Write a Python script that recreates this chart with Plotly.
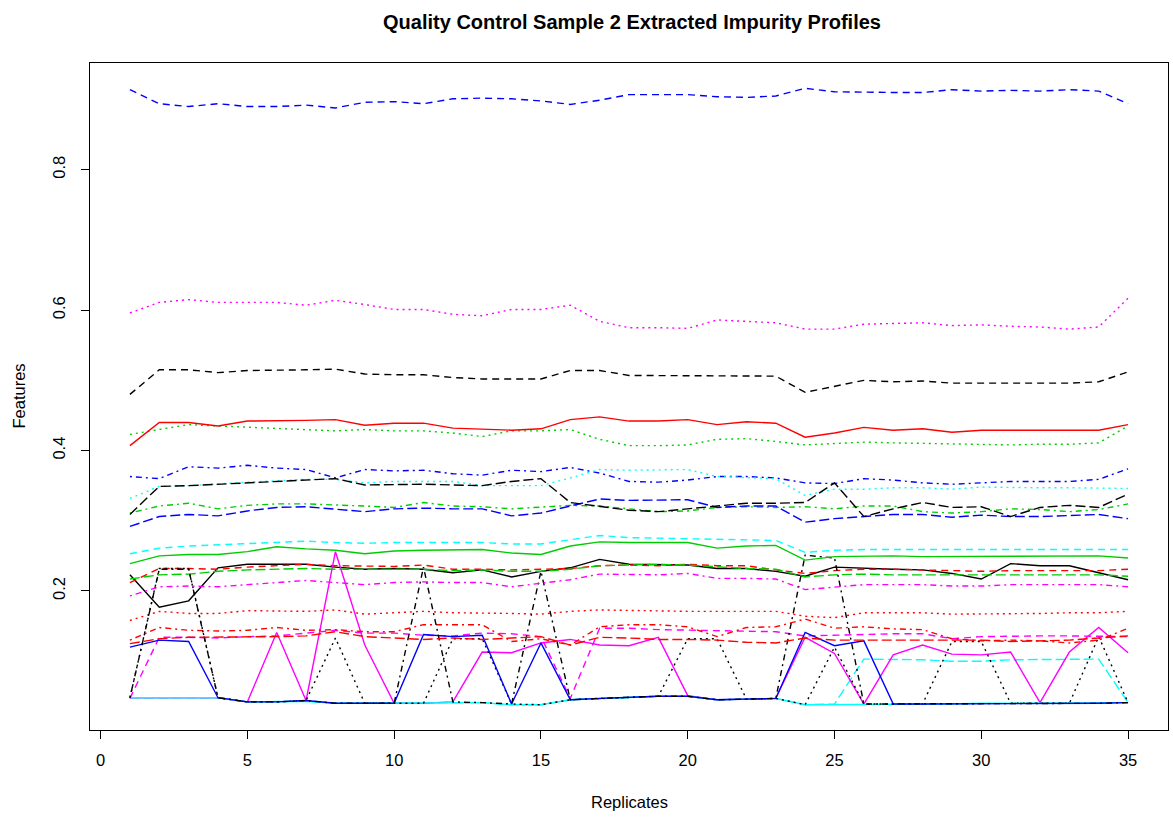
import plotly.graph_objects as go

# Replicate index (x axis)
replicates = list(range(1, 36))

# Feature intensity profiles, one list per feature (35 replicates each)
f01 = [0.223,0.177,0.186,0.233,0.238,0.238,0.238,0.234,0.231,0.232,0.231,0.226,0.230,0.220,0.228,0.233,0.245,0.238,0.237,0.237,0.232,0.232,0.228,0.221,0.234,0.232,0.231,0.230,0.225,0.217,0.239,0.236,0.236,0.226,0.216]
f02 = [0.212,0.232,0.232,0.231,0.234,0.236,0.238,0.236,0.235,0.235,0.237,0.231,0.231,0.230,0.231,0.232,0.236,0.237,0.236,0.238,0.236,0.236,0.230,0.225,0.229,0.231,0.231,0.230,0.228,0.228,0.229,0.229,0.229,0.229,0.231]
f03 = [0.423,0.430,0.437,0.435,0.433,0.432,0.429,0.428,0.430,0.428,0.428,0.425,0.420,0.428,0.428,0.430,0.416,0.407,0.407,0.408,0.416,0.417,0.413,0.408,0.410,0.412,0.411,0.410,0.409,0.409,0.408,0.409,0.409,0.411,0.435]
f04 = [0.363,0.360,0.377,0.375,0.379,0.375,0.373,0.361,0.373,0.371,0.372,0.367,0.365,0.372,0.370,0.376,0.368,0.356,0.355,0.358,0.363,0.363,0.361,0.354,0.353,0.360,0.358,0.354,0.352,0.354,0.356,0.356,0.356,0.359,0.374]
f05 = [0.048,0.048,0.048,0.048,0.042,0.042,0.043,0.040,0.040,0.040,0.040,0.041,0.041,0.038,0.038,0.045,0.047,0.049,0.050,0.050,0.045,0.046,0.047,0.038,0.039,0.103,0.103,0.102,0.100,0.100,0.102,0.102,0.102,0.103,0.041]
f06 = [0.048,0.048,0.048,0.048,0.042,0.141,0.044,0.256,0.123,0.040,0.040,0.042,0.113,0.112,0.126,0.131,0.123,0.122,0.134,0.051,0.045,0.046,0.047,0.134,0.111,0.039,0.109,0.123,0.110,0.109,0.113,0.041,0.113,0.148,0.112]
f07 = [0.480,0.515,0.515,0.511,0.514,0.514,0.515,0.516,0.509,0.508,0.508,0.504,0.502,0.502,0.502,0.514,0.514,0.507,0.507,0.507,0.506,0.507,0.506,0.483,0.492,0.500,0.498,0.499,0.496,0.496,0.495,0.496,0.496,0.498,0.512]
f08 = [0.158,0.171,0.168,0.168,0.172,0.172,0.171,0.173,0.167,0.169,0.171,0.169,0.169,0.168,0.167,0.171,0.173,0.172,0.171,0.171,0.171,0.171,0.171,0.164,0.162,0.169,0.169,0.169,0.167,0.167,0.168,0.168,0.169,0.169,0.171]
f09 = [0.311,0.321,0.325,0.317,0.322,0.324,0.324,0.323,0.321,0.319,0.326,0.321,0.320,0.317,0.320,0.322,0.321,0.317,0.313,0.314,0.319,0.320,0.319,0.320,0.317,0.321,0.321,0.313,0.311,0.313,0.317,0.316,0.313,0.316,0.324]
f10 = [0.292,0.306,0.309,0.307,0.314,0.319,0.320,0.317,0.313,0.317,0.318,0.317,0.317,0.307,0.311,0.321,0.331,0.329,0.329,0.330,0.319,0.321,0.321,0.298,0.303,0.306,0.309,0.309,0.305,0.308,0.306,0.306,0.307,0.309,0.303]
f11 = [0.048,0.048,0.048,0.048,0.042,0.042,0.043,0.040,0.040,0.040,0.040,0.041,0.041,0.038,0.038,0.045,0.047,0.049,0.050,0.050,0.045,0.046,0.047,0.038,0.038,0.038,0.039,0.039,0.039,0.040,0.040,0.040,0.040,0.040,0.041]
f12 = [0.047,0.134,0.134,0.133,0.135,0.136,0.140,0.144,0.140,0.140,0.137,0.136,0.140,0.139,0.135,0.047,0.147,0.147,0.145,0.144,0.144,0.143,0.142,0.136,0.137,0.139,0.139,0.139,0.132,0.135,0.136,0.136,0.136,0.136,0.135]
f13 = [0.048,0.232,0.232,0.048,0.042,0.042,0.044,0.133,0.040,0.040,0.040,0.132,0.132,0.039,0.038,0.045,0.047,0.049,0.050,0.132,0.132,0.046,0.047,0.038,0.120,0.039,0.039,0.039,0.128,0.128,0.040,0.040,0.040,0.135,0.041]
f14 = [0.130,0.148,0.144,0.143,0.144,0.148,0.144,0.145,0.142,0.142,0.152,0.152,0.152,0.128,0.132,0.123,0.149,0.152,0.152,0.149,0.135,0.148,0.149,0.160,0.147,0.149,0.146,0.145,0.132,0.129,0.130,0.129,0.126,0.130,0.147]
f15 = [0.217,0.223,0.224,0.228,0.230,0.231,0.232,0.231,0.231,0.231,0.231,0.229,0.230,0.228,0.228,0.231,0.236,0.237,0.238,0.237,0.234,0.232,0.231,0.220,0.223,0.224,0.223,0.223,0.223,0.223,0.223,0.223,0.223,0.223,0.221]
f16 = [0.120,0.130,0.128,0.048,0.042,0.042,0.044,0.040,0.040,0.040,0.138,0.135,0.137,0.039,0.126,0.045,0.047,0.049,0.050,0.050,0.045,0.046,0.047,0.141,0.122,0.129,0.039,0.039,0.039,0.040,0.040,0.040,0.040,0.040,0.041]
f17 = [0.253,0.261,0.264,0.266,0.268,0.270,0.271,0.269,0.268,0.269,0.269,0.269,0.269,0.267,0.267,0.273,0.279,0.276,0.275,0.275,0.273,0.272,0.272,0.255,0.258,0.259,0.259,0.259,0.258,0.259,0.259,0.259,0.259,0.259,0.259]
f18 = [0.596,0.611,0.615,0.611,0.611,0.611,0.607,0.614,0.608,0.601,0.601,0.594,0.592,0.601,0.601,0.607,0.584,0.575,0.575,0.574,0.586,0.584,0.582,0.573,0.573,0.580,0.581,0.582,0.578,0.579,0.577,0.576,0.573,0.576,0.617]
f19 = [0.048,0.231,0.231,0.048,0.042,0.042,0.044,0.040,0.040,0.040,0.234,0.042,0.041,0.039,0.228,0.045,0.047,0.049,0.050,0.050,0.045,0.046,0.047,0.251,0.247,0.039,0.039,0.039,0.039,0.040,0.040,0.040,0.040,0.040,0.041]
f20 = [0.125,0.132,0.134,0.134,0.135,0.135,0.136,0.142,0.135,0.133,0.131,0.133,0.131,0.133,0.135,0.123,0.134,0.133,0.131,0.131,0.130,0.127,0.126,0.133,0.130,0.130,0.130,0.131,0.131,0.130,0.128,0.129,0.130,0.133,0.136]
f21 = [0.239,0.250,0.252,0.252,0.256,0.263,0.260,0.258,0.253,0.257,0.258,0.258,0.259,0.254,0.252,0.264,0.270,0.269,0.269,0.269,0.261,0.264,0.265,0.244,0.249,0.250,0.250,0.249,0.249,0.250,0.249,0.250,0.250,0.250,0.247]
f22 = [0.914,0.894,0.890,0.894,0.890,0.890,0.892,0.888,0.896,0.897,0.894,0.901,0.902,0.901,0.898,0.893,0.899,0.907,0.907,0.907,0.904,0.903,0.905,0.916,0.911,0.910,0.910,0.910,0.914,0.912,0.913,0.912,0.914,0.912,0.894]
f23 = [0.332,0.349,0.350,0.353,0.355,0.357,0.359,0.359,0.354,0.356,0.356,0.356,0.350,0.350,0.350,0.361,0.373,0.372,0.372,0.373,0.363,0.361,0.360,0.336,0.345,0.345,0.347,0.347,0.345,0.348,0.347,0.347,0.347,0.347,0.346]
f24 = [0.193,0.206,0.207,0.206,0.209,0.212,0.215,0.212,0.209,0.212,0.213,0.212,0.212,0.206,0.211,0.216,0.224,0.223,0.223,0.225,0.218,0.218,0.217,0.202,0.206,0.209,0.209,0.209,0.207,0.207,0.209,0.209,0.209,0.209,0.206]
f25 = [0.309,0.349,0.350,0.352,0.353,0.355,0.357,0.360,0.351,0.352,0.352,0.351,0.350,0.356,0.360,0.326,0.321,0.315,0.313,0.317,0.321,0.325,0.325,0.326,0.354,0.306,0.317,0.326,0.319,0.320,0.306,0.319,0.322,0.319,0.338]
f26 = [0.407,0.440,0.440,0.435,0.442,0.442,0.443,0.444,0.436,0.439,0.439,0.432,0.431,0.429,0.431,0.444,0.448,0.442,0.442,0.444,0.437,0.441,0.439,0.419,0.425,0.433,0.429,0.431,0.426,0.429,0.429,0.429,0.428,0.429,0.437]

features = [f01, f02, f03, f04, f05, f06, f07, f08, f09, f10, f11, f12, f13,
            f14, f15, f16, f17, f18, f19, f20, f21, f22, f23, f24, f25, f26]

# Base graphics palette and line types, recycled across columns
palette = ["#000000", "#FF0000", "#00CD00", "#0000FF", "#00FFFF", "#FF00FF"]
line_types = ["solid", "7px,5px", "2px,4px", "2px,4px,6px,4px", "10px,4px"]

x_ticks = [0, 5, 10, 15, 20, 25, 30, 35]
y_ticks = [0.2, 0.4, 0.6, 0.8]

fig = go.Figure()
for i, values in enumerate(features):
    fig.add_trace(go.Scatter(
        x=replicates, y=values, mode="lines",
        line=dict(color=palette[i % 6], dash=line_types[i % 5], width=1.4),
        name=f"Feature {i + 1}", hoverinfo="x+y",
    ))

font_family = "Liberation Sans, Arial, sans-serif"
axis_common = dict(
    showline=True, linecolor="black", linewidth=1, mirror=True,
    showgrid=False, zeroline=False,
    ticks="outside", ticklen=8, tickcolor="black", tickwidth=1,
    tickfont=dict(family=font_family, size=16.5, color="black"),
)

fig.update_layout(
    width=1173, height=820,
    margin=dict(l=90, r=5, t=63, b=90),
    paper_bgcolor="white", plot_bgcolor="white",
    showlegend=False,
    title=dict(
        text="<b>Quality Control Sample 2 Extracted Impurity Profiles</b>",
        x=632 / 1173, xanchor="center",
        y=1 - 22 / 820, yanchor="middle", yref="container",
        font=dict(family=font_family, size=20, color="black"),
    ),
    xaxis=dict(range=[-0.36, 36.36], tickvals=x_ticks, ticklabelstandoff=7, **axis_common),
    yaxis=dict(range=[0.002, 0.952], tickvals=y_ticks, ticktext=[str(v) for v in y_ticks],
               tickangle=-90, ticklabelstandoff=9, **axis_common),
    annotations=[
        dict(text="Replicates", xref="paper", yref="paper", x=0.5, y=0,
             yshift=-72, showarrow=False, yanchor="middle",
             font=dict(family=font_family, size=16.5, color="black")),
        dict(text="Features", xref="paper", yref="paper", x=0, y=0.5,
             xshift=-72, showarrow=False, xanchor="center", textangle=-90,
             font=dict(family=font_family, size=16.5, color="black")),
    ],
)

fig.write_html("out.html")
